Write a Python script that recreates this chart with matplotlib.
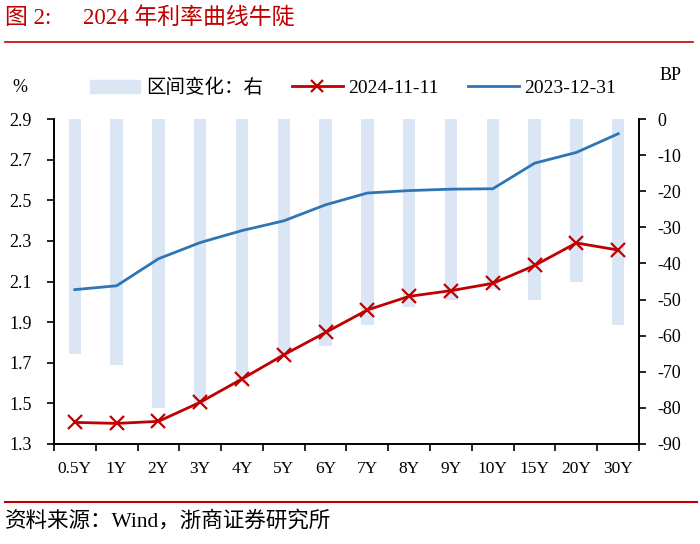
import numpy as np
import matplotlib
matplotlib.use('Agg')
import matplotlib.pyplot as plt
from matplotlib.lines import Line2D
from matplotlib.patches import Patch

plt.rcParams['font.family'] = ['Liberation Serif', 'Noto Sans CJK SC']
plt.rcParams['axes.unicode_minus'] = False

# data
tenors = ['0.5Y', '1Y', '2Y', '3Y', '4Y', '5Y', '6Y', '7Y', '8Y', '9Y', '10Y', '15Y', '20Y', '30Y']
y_2024 = [1.406, 1.401, 1.411, 1.505, 1.620, 1.739, 1.849, 1.960, 2.027, 2.055, 2.091, 2.179, 2.290, 2.255]
y_2023 = [2.060, 2.079, 2.212, 2.292, 2.351, 2.399, 2.478, 2.536, 2.548, 2.555, 2.557, 2.683, 2.736, 2.828]
change_bp = [-65, -68, -80, -79, -73, -66, -63, -57, -52, -50, -47, -50, -45, -57]

red = '#c00000'
blue = '#2e75b6'
bar_col = '#dae6f3'

fig = plt.figure(figsize=(7, 5.44), dpi=100)
ax = fig.add_axes([0.077, 0.184, 0.836, 0.597])
ax2 = ax.twinx()

x = np.arange(len(tenors))

# bars on right axis, drawn behind the lines
ax2.bar(x, change_bp, width=0.3, color=bar_col, zorder=1)
ax2.set_ylim(-90, 0)
ax2.set_yticks(np.arange(-90, 1, 10))
ax2.tick_params(axis='y', direction='out', length=5, width=1.2, labelsize=13, pad=8)

ax.set_zorder(ax2.get_zorder() + 1)
ax.patch.set_visible(False)
ax.plot(x, y_2024, color=red, lw=2, marker='x', ms=10, mew=1.6, zorder=3)
ax.plot(x, y_2023, color=blue, lw=2, zorder=3)
ax.set_ylim(1.3, 2.9)
ax.set_yticks(np.arange(1.3, 2.91, 0.2))
ax.set_yticklabels([f'{v:.1f}' for v in np.arange(1.3, 2.91, 0.2)])
ax.set_xlim(-0.5, len(tenors) - 0.5)
ax.set_xticks(x)
ax.set_xticklabels(tenors)
ax.set_xticks(np.arange(-0.5, len(tenors), 1), minor=True)
ax.tick_params(axis='x', which='major', length=0, labelsize=12.5, pad=12)
ax.tick_params(axis='x', which='minor', direction='out', length=5, width=1.2)
ax.tick_params(axis='y', direction='out', length=5, width=1.2, labelsize=13, pad=11)

for a in (ax, ax2):
    a.spines['top'].set_visible(False)
    for s in ('left', 'right', 'bottom'):
        a.spines[s].set_linewidth(1.2)

# legend row
handles = [Patch(color=bar_col),
           Line2D([], [], color=red, lw=2, marker='x', ms=8, mew=1.6),
           Line2D([], [], color=blue, lw=2)]
labels = ['区间变化：右', '2024-11-11', '2023-12-31']
fig.legend(handles, labels, loc='center', bbox_to_anchor=(353 / 700, 1 - 88 / 544), ncol=3,
           frameon=False, fontsize=14, handlelength=2.6, handletextpad=0.3,
           columnspacing=1.5)

fig.text(12 / 700, 1 - 88 / 544, '%', fontsize=13, va='center')
fig.text(660 / 700, 1 - 76 / 544, 'BP', fontsize=13, va='center')

# title and source
fig.text(5 / 700, 1 - 18 / 544, '图 2:', color=red, fontsize=16.5, va='center')
fig.text(83 / 700, 1 - 18 / 544, '2024 年利率曲线牛陡', color=red, fontsize=16.5, va='center')
fig.add_artist(Line2D([5 / 700, 693 / 700], [1 - 41.5 / 544] * 2, color=red, lw=1.2))
fig.add_artist(Line2D([5 / 700, 697 / 700], [1 - 501.5 / 544] * 2, color=red, lw=1.5))
fig.text(5 / 700, 1 - 521 / 544, '资料来源：Wind，浙商证券研究所', fontsize=15.5, va='center')

fig.savefig('out.png', dpi=100)
